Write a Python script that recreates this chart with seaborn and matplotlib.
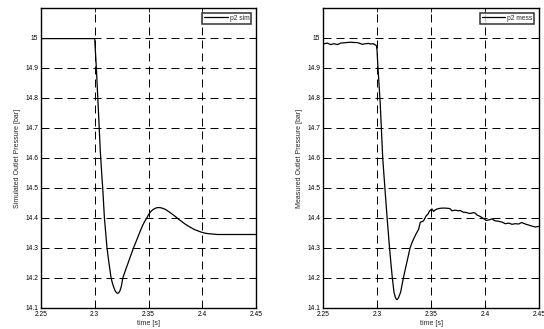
import numpy as np
import pandas as pd
import matplotlib
matplotlib.use("Agg")
import matplotlib.pyplot as plt
import seaborn as sns

# ---- data ----
t_sim = [2.25, 2.30, 2.3003, 2.3015, 2.3035, 2.3052, 2.3068, 2.3074, 2.3082, 2.3090,
         2.3102, 2.3114, 2.3132, 2.3152, 2.3165, 2.3178, 2.3190, 2.3202, 2.3213,
         2.3224, 2.3235, 2.3247, 2.3261, 2.3285, 2.3310, 2.3335, 2.3360, 2.3383,
         2.3405, 2.3425, 2.3445, 2.3465, 2.3484, 2.3502, 2.3520, 2.3538, 2.3555,
         2.3575, 2.3595, 2.3615, 2.3635, 2.3660, 2.3690, 2.3720, 2.3750, 2.3780,
         2.3810, 2.3840, 2.3870, 2.3900, 2.3930, 2.3960, 2.3990, 2.4020, 2.4050,
         2.4080, 2.4110, 2.4140, 2.4170, 2.4200, 2.45]
p_sim = [14.998, 14.998, 14.975, 14.90, 14.75, 14.62, 14.53, 14.50, 14.45, 14.40,
         14.35, 14.30, 14.25, 14.20, 14.182, 14.168, 14.157, 14.151, 14.149,
         14.151, 14.158, 14.172, 14.20, 14.225, 14.25, 14.275, 14.30, 14.32,
         14.34, 14.358, 14.375, 14.389, 14.40, 14.412, 14.421, 14.427, 14.431,
         14.434, 14.435, 14.434, 14.432, 14.428, 14.421, 14.413, 14.405, 14.396,
         14.388, 14.380, 14.373, 14.367, 14.361, 14.357, 14.353, 14.350, 14.348,
         14.347, 14.346, 14.345, 14.345, 14.345, 14.345]

t_mess = [2.2500, 2.2540, 2.2571, 2.2602, 2.2633, 2.2664, 2.2695, 2.2725, 2.2756,
          2.2787, 2.2810, 2.2833, 2.2864, 2.2895, 2.2920, 2.2941, 2.2965, 2.2981,
          2.2994, 2.3000, 2.3006, 2.3030, 2.3053, 2.3075, 2.3096, 2.3116, 2.3130,
          2.3142, 2.3157, 2.3168, 2.3176, 2.3182, 2.3190, 2.3200, 2.3219, 2.3244,
          2.3275, 2.3306, 2.3322, 2.3339, 2.3360, 2.3385, 2.3401, 2.3418, 2.3432,
          2.3445, 2.3457, 2.3472, 2.3487, 2.3500, 2.3509, 2.3524, 2.3540, 2.3556,
          2.3580, 2.3602, 2.3630, 2.3663, 2.3680, 2.3694, 2.3725, 2.3756, 2.3771,
          2.3790, 2.3802, 2.3818, 2.3848, 2.3864, 2.3894, 2.3910, 2.3926, 2.3956,
          2.3987, 2.4010, 2.4040, 2.4065, 2.4090, 2.4127, 2.4160, 2.4188, 2.4220,
          2.4250, 2.4280, 2.4312, 2.4340, 2.4373, 2.4400, 2.4435, 2.4465, 2.4497]
p_mess = [14.980, 14.983, 14.978, 14.981, 14.978, 14.983, 14.984, 14.985, 14.986,
          14.985, 14.985, 14.983, 14.979, 14.981, 14.982, 14.980, 14.981, 14.978,
          14.975, 14.960, 14.920, 14.780, 14.600, 14.490, 14.390, 14.300, 14.245,
          14.200, 14.153, 14.138, 14.131, 14.128, 14.129, 14.135, 14.153, 14.200,
          14.250, 14.300, 14.316, 14.330, 14.346, 14.362, 14.386, 14.388, 14.391,
          14.400, 14.408, 14.413, 14.424, 14.428, 14.430, 14.422, 14.427, 14.430,
          14.432, 14.433, 14.433, 14.432, 14.430, 14.424, 14.426, 14.424, 14.425,
          14.421, 14.419, 14.419, 14.416, 14.415, 14.418, 14.416, 14.410, 14.405,
          14.398, 14.392, 14.394, 14.397, 14.391, 14.389, 14.386, 14.381, 14.383,
          14.379, 14.381, 14.380, 14.385, 14.380, 14.377, 14.373, 14.370, 14.372]

x_ticks = [2.25, 2.3, 2.35, 2.4, 2.45]
x_labels = ["2.25", "2.3", "2.35", "2.4", "2.45"]
y_ticks = [14.1, 14.2, 14.3, 14.4, 14.5, 14.6, 14.7, 14.8, 14.9, 15.0]
y_labels = ["14.1", "14.2", "14.3", "14.4", "14.5", "14.6", "14.7", "14.8", "14.9", "15"]

df_sim = pd.DataFrame({"t": t_sim, "p": p_sim, "series": "p2 sim"})
df_mess = pd.DataFrame({"t": t_mess, "p": p_mess, "series": "p2 mess"})

sns.set_style("white")
plt.rcParams["font.family"] = ["Liberation Sans", "DejaVu Sans"]

fig = plt.figure(figsize=(5.44, 3.29), dpi=100)
W, H = 544, 329
axL = fig.add_axes([41 / W, 1 - 308 / H, 215 / W, 300 / H])
axR = fig.add_axes([323 / W, 1 - 308 / H, 216 / W, 300 / H])

for ax, df, ylab in [(axL, df_sim, "Simulated Outlet Pressure [bar]"),
                     (axR, df_mess, "Measured Outlet Pressure [bar]")]:
    sns.lineplot(data=df, x="t", y="p", hue="series", palette=["black"],
                 ax=ax, linewidth=0.9, sort=False, estimator=None)
    ax.set_xlim(2.25, 2.45)
    ax.set_ylim(14.1, 15.1)
    ax.set_xticks(x_ticks)
    ax.set_xticklabels(x_labels)
    ax.set_yticks(y_ticks)
    ax.set_yticklabels(y_labels)
    ax.grid(True, color="black", linestyle=(0, (8, 5)), linewidth=0.72)
    ax.set_axisbelow(True)
    ax.tick_params(direction="in", length=3, width=0.6, labelsize=4.8,
                   top=True, right=True, pad=2, colors="black")
    for s in ax.spines.values():
        s.set_color("black")
        s.set_linewidth(1.0)
    ax.set_xlabel("time [s]", fontsize=5, labelpad=1.5)
    ax.set_ylabel(ylab, fontsize=5, labelpad=3)
    leg = ax.legend(loc="upper right", fontsize=4.8, frameon=True, fancybox=False,
                    handlelength=3.5, borderaxespad=0.7, borderpad=0.3,
                    handletextpad=0.3)
    leg.get_frame().set_edgecolor("black")
    leg.get_frame().set_linewidth(1.1)
    leg.set_title(None)

fig.savefig("out.png", dpi=100)
